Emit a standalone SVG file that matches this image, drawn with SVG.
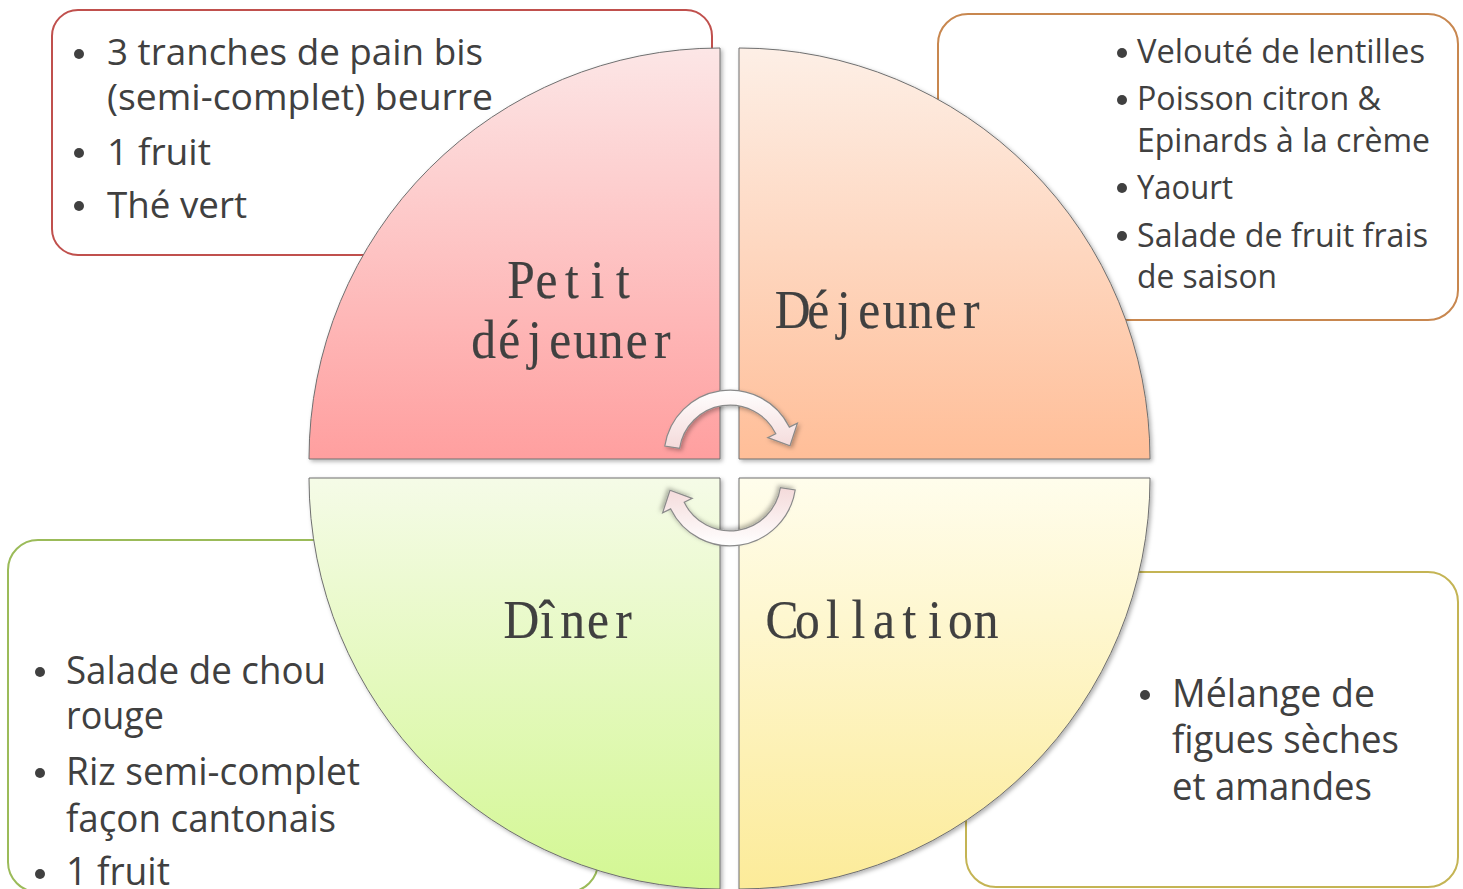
<svg xmlns="http://www.w3.org/2000/svg" width="1463" height="889" viewBox="0 0 1463 889">
<defs>
<style>
.box{fill:#fff;stroke-width:2}
.body{font-family:"Open Sans","Liberation Sans",sans-serif;fill:#404040}
.bul{fill:#404040}
.lbl{font-family:"Liberation Serif","DejaVu Serif",serif;font-size:55px;fill:#404040;stroke:#404040;stroke-width:0.2;text-anchor:middle}
.sector{stroke:#6f6f6f;stroke-width:1;filter:url(#sh)}
.arrow{fill:url(#gArrow);stroke:#8a8a8a;stroke-width:1.2;filter:url(#sh)}
</style>
<filter id="sh" x="-10%" y="-10%" width="120%" height="120%">
<feDropShadow dx="2" dy="2" stdDeviation="2" flood-color="#000" flood-opacity="0.3"/>
</filter>
<linearGradient id="gTL" x1="0" y1="0" x2="0" y2="1"><stop offset="0" stop-color="#FCE6E6"/><stop offset="1" stop-color="#FF9F9F"/></linearGradient>
<linearGradient id="gTR" x1="0" y1="0" x2="0" y2="1"><stop offset="0" stop-color="#FDEFE6"/><stop offset="1" stop-color="#FFBE98"/></linearGradient>
<linearGradient id="gBL" x1="0" y1="0" x2="0" y2="1"><stop offset="0" stop-color="#F5FBE7"/><stop offset="1" stop-color="#D3F793"/></linearGradient>
<linearGradient id="gBR" x1="0" y1="0" x2="0" y2="1"><stop offset="0" stop-color="#FFFDEC"/><stop offset="1" stop-color="#FCEB99"/></linearGradient>
<linearGradient id="gArrow" x1="0" y1="0" x2="0" y2="1"><stop offset="0" stop-color="#FFFFFF"/><stop offset="1" stop-color="#F4DADA"/></linearGradient>
</defs>
<rect width="1463" height="889" fill="#fff"/>

<g id="box-petit-dejeuner">
<rect class="box" x="52" y="10" width="660" height="245" rx="26" stroke="#C0504D"/>
<circle class="bul" cx="79" cy="54" r="5"/>
<text class="body" font-size="37" x="107" y="65" textLength="376" lengthAdjust="spacingAndGlyphs">3 tranches de pain bis</text>
<text class="body" font-size="37" x="107" y="110" textLength="386" lengthAdjust="spacingAndGlyphs">(semi-complet) beurre</text>
<circle class="bul" cx="79" cy="153" r="5"/>
<text class="body" font-size="37" x="107" y="165" textLength="104" lengthAdjust="spacingAndGlyphs">1 fruit</text>
<circle class="bul" cx="79" cy="206" r="5"/>
<text class="body" font-size="37" x="107" y="218" textLength="140" lengthAdjust="spacingAndGlyphs">Thé vert</text>
</g>

<g id="box-dejeuner">
<rect class="box" x="938" y="14" width="520" height="306" rx="30" stroke="#C8874F"/>
<circle class="bul" cx="1122" cy="53" r="5"/>
<text class="body" font-size="33" x="1137" y="63" textLength="288" lengthAdjust="spacingAndGlyphs">Velouté de lentilles</text>
<circle class="bul" cx="1122" cy="100" r="5"/>
<text class="body" font-size="33" x="1137" y="110" textLength="244" lengthAdjust="spacingAndGlyphs">Poisson citron &amp;</text>
<text class="body" font-size="33" x="1137" y="152" textLength="293" lengthAdjust="spacingAndGlyphs">Epinards à la crème</text>
<circle class="bul" cx="1122" cy="188" r="5"/>
<text class="body" font-size="33" x="1137" y="199" textLength="96" lengthAdjust="spacingAndGlyphs">Yaourt</text>
<circle class="bul" cx="1122" cy="236" r="5"/>
<text class="body" font-size="33" x="1137" y="247" textLength="291" lengthAdjust="spacingAndGlyphs">Salade de fruit frais</text>
<text class="body" font-size="33" x="1137" y="288" textLength="140" lengthAdjust="spacingAndGlyphs">de saison</text>
</g>

<g id="box-diner">
<rect class="box" x="8" y="540" width="590" height="352" rx="30" stroke="#9BBB59"/>
<circle class="bul" cx="40" cy="672" r="5"/>
<text class="body" font-size="38" x="66" y="684" textLength="260" lengthAdjust="spacingAndGlyphs">Salade de chou</text>
<text class="body" font-size="38" x="66" y="729" textLength="98" lengthAdjust="spacingAndGlyphs">rouge</text>
<circle class="bul" cx="40" cy="773" r="5"/>
<text class="body" font-size="38" x="66" y="785" textLength="294" lengthAdjust="spacingAndGlyphs">Riz semi-complet</text>
<text class="body" font-size="38" x="66" y="832" textLength="270" lengthAdjust="spacingAndGlyphs">façon cantonais</text>
<circle class="bul" cx="40" cy="874" r="5"/>
<text class="body" font-size="38" x="66" y="885" textLength="104" lengthAdjust="spacingAndGlyphs">1 fruit</text>
</g>

<g id="box-collation">
<rect class="box" x="966" y="572" width="492" height="315" rx="30" stroke="#C4B454"/>
<circle class="bul" cx="1145" cy="695" r="5"/>
<text class="body" font-size="38" x="1172" y="707" textLength="203" lengthAdjust="spacingAndGlyphs">Mélange de</text>
<text class="body" font-size="38" x="1172" y="753" textLength="227" lengthAdjust="spacingAndGlyphs">figues sèches</text>
<text class="body" font-size="38" x="1172" y="800" textLength="200" lengthAdjust="spacingAndGlyphs">et amandes</text>
</g>

<g id="node-petit-dejeuner">
<path class="sector" fill="url(#gTL)" d="M720,459 L309,459 A411,411 0 0 1 720,48 Z"/>
<text class="lbl" transform="scale(0.9,1)" x="578.89 607.22 635.56 663.89 692.22" y="298">Petit</text>
<text class="lbl" transform="scale(0.9,1)" x="537.5 565.83 594.17 622.5 650.83 679.17 707.5 735.83" y="358">déjeuner</text>
</g>

<g id="node-dejeuner">
<path class="sector" fill="url(#gTR)" d="M739,459 L739,48 A411,411 0 0 1 1150,459 Z"/>
<text class="lbl" transform="scale(0.9,1)" x="880.83 909.17 937.5 965.83 994.17 1022.5 1050.83 1079.17" y="328">Déjeuner</text>
</g>

<g id="node-diner">
<path class="sector" fill="url(#gBL)" d="M720,478 L309,478 A411,411 0 0 0 720,889 Z"/>
<text class="lbl" transform="scale(0.9,1)" x="579.44 607.78 636.11 664.44 692.78" y="638">Dîner</text>
</g>

<g id="node-collation">
<path class="sector" fill="url(#gBR)" d="M739,478 L1150,478 A411,411 0 0 1 739,889 Z"/>
<text class="lbl" transform="scale(0.9,1)" x="868.89 897.22 925.56 953.89 982.22 1010.56 1038.89 1067.22 1095.56" y="638">Collation</text>
</g>

<g id="connectors">
<path id="arrow-top" class="arrow" d="M664.8,446 A66,66 0 0 1 789.3,427.1 L797.4,423.1 L790,445.7 L767.8,437.6 L775.8,433.7 A51,51 0 0 0 679.6,448.3 Z"/>
<path id="arrow-bottom" class="arrow" transform="rotate(180 730 468)" d="M664.8,446 A66,66 0 0 1 789.3,427.1 L797.4,423.1 L790,445.7 L767.8,437.6 L775.8,433.7 A51,51 0 0 0 679.6,448.3 Z"/>
</g>
</svg>
